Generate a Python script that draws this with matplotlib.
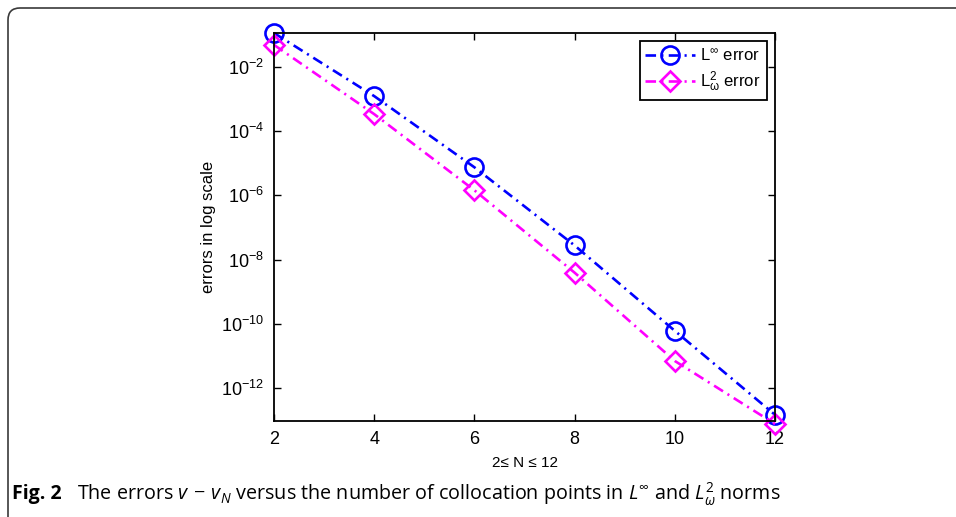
import matplotlib
matplotlib.use('Agg')
import matplotlib.pyplot as plt
from matplotlib.path import Path
from matplotlib.patches import PathPatch
import numpy as np

# data
N = [2, 4, 6, 8, 10, 12]
err_inf = [0.115, 1.24e-3, 7.5e-6, 2.75e-8, 6.0e-11, 1.45e-13]
err_l2w = [0.049, 3.4e-4, 1.44e-6, 3.9e-9, 6.9e-12, 7.5e-14]
yticks = [1e-12, 1e-10, 1e-8, 1e-6, 1e-4, 1e-2]

plt.rcParams['font.family'] = ['Liberation Sans', 'DejaVu Sans']
plt.rcParams['mathtext.fontset'] = 'custom'
plt.rcParams['mathtext.rm'] = 'Open Sans'
plt.rcParams['mathtext.it'] = 'Open Sans:italic'
plt.rcParams['mathtext.bf'] = 'Open Sans:bold'

fig = plt.figure(figsize=(9.56, 5.17), dpi=100)
ax = fig.add_axes([0.2866, 0.1857, 0.5241, 0.7505])

dash = (0, (4, 2, 0.8, 2))
ax.semilogy(N, err_inf, color='#0000ff', linestyle=dash, lw=1.9,
            marker='o', ms=13, mfc='none', mec='#0000ff', mew=1.9,
            label=r'$\mathregular{L^{\infty}}$ error', clip_on=False)
ax.semilogy(N, err_l2w, color='#ff00ff', linestyle=dash, lw=1.9,
            marker='D', ms=10.5, mfc='none', mec='#ff00ff', mew=1.9,
            label=r'$\mathregular{L^{2}_{\omega}}$ error', clip_on=False)

ax.set_xlim(2, 12)
ax.set_ylim(9.3e-14, 0.115)
ax.set_xticks(N)
ax.set_yticks(yticks)
ax.yaxis.set_minor_locator(matplotlib.ticker.NullLocator())
ax.tick_params(direction='in', length=5, width=1, labelsize=13,
               top=True, right=True, pad=7)
for s in ax.spines.values():
    s.set_linewidth(1.3)

ax.set_xlabel('2≤ N ≤ 12', fontsize=11, labelpad=6)
ax.set_ylabel('errors in log scale', fontsize=12, labelpad=4)

leg = ax.legend(loc='upper right', fontsize=12, frameon=True, fancybox=False,
                edgecolor='black', framealpha=1, handlelength=3.0,
                borderaxespad=0.5, handletextpad=0.3, labelspacing=0.35,
                borderpad=0.35)
leg.get_frame().set_linewidth(1.3)

# rounded frame around figure
r = 0.12
x0, ytop = 0.08, 5.09
verts = [(x0, 0.0), (x0, ytop - r), (x0, ytop), (x0 + r, ytop), (9.56, ytop)]
codes = [Path.MOVETO, Path.LINETO, Path.CURVE3, Path.CURVE3, Path.LINETO]
fig.add_artist(PathPatch(Path(verts, codes), transform=fig.dpi_scale_trans,
                         fill=False, edgecolor='#3a3a3a', lw=1.2))

# caption
fig.text(12 / 956, 1 - 494 / 517, 'Fig. 2', fontsize=14, fontweight='bold',
         family='Open Sans', va='center', ha='left')
fig.text(77 / 956, 1 - 494 / 517,
         r'The errors $v\,-\,v_N$ versus the number of collocation points in '
         r'$L^\infty$ and $L^2_\omega$ norms',
         fontsize=14.2, family='Open Sans', va='center', ha='left')

fig.savefig('out.png', dpi=100)
